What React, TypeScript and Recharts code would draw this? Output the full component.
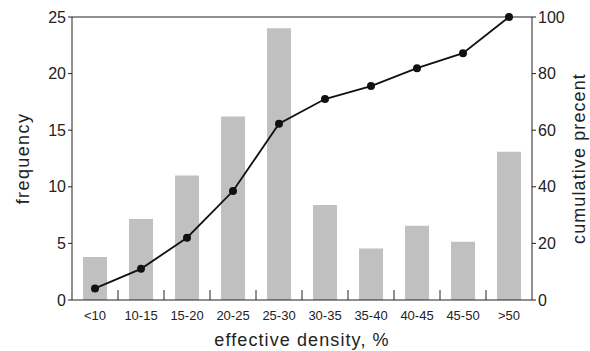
import React from "react";
import {
  ComposedChart,
  Bar,
  Line,
  XAxis,
  YAxis,
  ReferenceLine,
  Label,
} from "recharts";

const categories = ["<10", "10-15", "15-20", "20-25", "25-30", "30-35", "35-40", "40-45", "45-50", ">50"];
const frequency = [3.8, 7.15, 11.0, 16.2, 24.0, 8.4, 4.55, 6.55, 5.15, 13.1];
const cumulative = [4.1, 11.0, 22.0, 38.5, 62.3, 71.0, 75.6, 81.9, 87.2, 100];
const leftTicks = [0, 5, 10, 15, 20, 25];
const rightTicks = [0, 20, 40, 60, 80, 100];

const data = categories.map((cat, i) => ({
  cat,
  freq: frequency[i],
  cum: cumulative[i],
}));

const W = 590;
const H = 351;
const LEFT_W = 72;
const RIGHT_W = 58;
const BAND = (W - LEFT_W - RIGHT_W) / categories.length;
const INK = "#222";
const FONT = "'Liberation Sans', Arial, sans-serif";

function CategoryTick(props: any) {
  const { x, y, payload, index } = props;
  return (
    <g>
      {index > 0 && (
        <line x1={x - BAND / 2} y1={y} x2={x - BAND / 2} y2={y - 10} stroke={INK} strokeWidth={1} />
      )}
      <text x={x} y={y + 20} textAnchor="middle" fontSize={13} fill={INK} fontFamily={FONT}>
        {payload.value}
      </text>
    </g>
  );
}

export default function App(): React.ReactElement {
  return (
    <div style={{ position: "absolute", left: 0, top: 0, background: "#fff", fontFamily: FONT }}>
      <ComposedChart
        width={W}
        height={H}
        data={data}
        margin={{ top: 17, right: 0, bottom: 0, left: 0 }}
        barCategoryGap="24%"
      >
        <XAxis
          dataKey="cat"
          height={51}
          tickSize={0}
          tickMargin={0}
          tick={<CategoryTick />}
          axisLine={{ stroke: INK, strokeWidth: 1 }}
          interval={0}
        >
          <Label
            value="effective density, %"
            position="insideBottom"
            offset={5}
            style={{ fontSize: 18, fill: INK, letterSpacing: 1.1, fontFamily: FONT }}
          />
        </XAxis>
        <YAxis
          yAxisId="left"
          width={LEFT_W}
          domain={[0, 25]}
          ticks={leftTicks}
          tickSize={4}
          tickMargin={2}
          tick={{ fontSize: 16, fill: INK, fontFamily: FONT }}
          axisLine={{ stroke: INK, strokeWidth: 1 }}
          tickLine={{ stroke: INK }}
        >
          <Label
            value="frequency"
            angle={-90}
            position="center"
            dx={-13}
            style={{ fontSize: 18, fill: INK, letterSpacing: 1.4, fontFamily: FONT, textAnchor: "middle" }}
          />
        </YAxis>
        <YAxis
          yAxisId="right"
          orientation="right"
          width={RIGHT_W}
          domain={[0, 100]}
          ticks={rightTicks}
          tickSize={4}
          tickMargin={2}
          tick={{ fontSize: 16, fill: INK, fontFamily: FONT }}
          axisLine={{ stroke: INK, strokeWidth: 1 }}
          tickLine={{ stroke: INK }}
        >
          <Label
            value="cumulative precent"
            angle={-90}
            position="center"
            dx={18}
            style={{ fontSize: 18, fill: INK, letterSpacing: 1.1, fontFamily: FONT, textAnchor: "middle" }}
          />
        </YAxis>
        <ReferenceLine yAxisId="left" y={25} stroke={INK} strokeWidth={1} />
        <Bar yAxisId="left" dataKey="freq" fill="#c0c0c0" isAnimationActive={false} />
        <Line
          yAxisId="right"
          dataKey="cum"
          type="linear"
          stroke="#111"
          strokeWidth={1.8}
          dot={{ r: 4, fill: "#111", stroke: "#111", strokeWidth: 0 }}
          isAnimationActive={false}
        />
      </ComposedChart>
    </div>
  );
}
